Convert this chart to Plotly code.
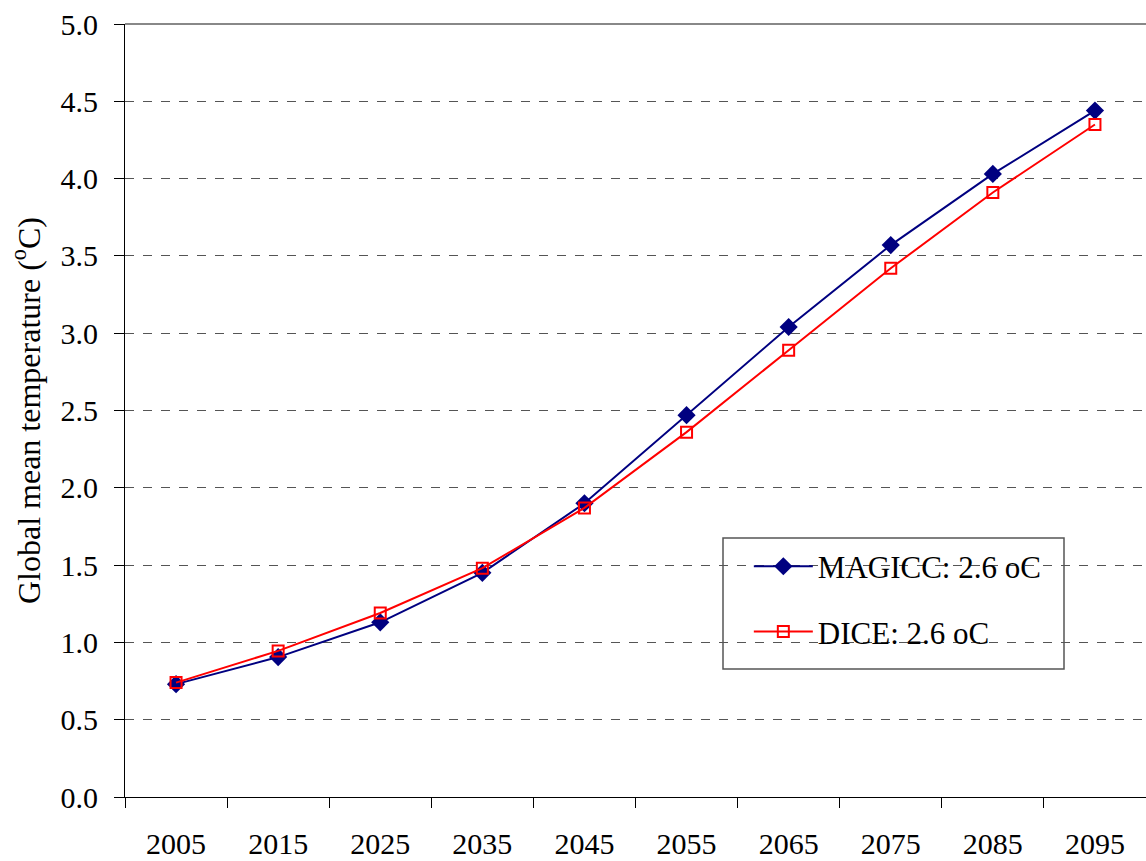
import plotly.graph_objects as go

years = ["2005", "2015", "2025", "2035", "2045", "2055", "2065", "2075", "2085", "2095"]
magicc = [0.73, 0.905, 1.13, 1.45, 1.90, 2.47, 3.04, 3.57, 4.03, 4.44]
dice = [0.74, 0.945, 1.19, 1.48, 1.87, 2.36, 2.89, 3.42, 3.91, 4.35]
y_ticks = [0.0, 0.5, 1.0, 1.5, 2.0, 2.5, 3.0, 3.5, 4.0, 4.5, 5.0]

FONT = "Liberation Serif"

fig = go.Figure()
fig.add_trace(go.Scatter(
    x=years, y=magicc, name="MAGICC: 2.6 oC", mode="lines+markers",
    line=dict(color="#000080", width=2),
    marker=dict(symbol="diamond", size=14, color="#000080"),
    legendgroup="a"))
fig.add_trace(go.Scatter(
    x=years, y=dice, name="DICE: 2.6 oC", mode="lines+markers",
    line=dict(color="#ff0000", width=2),
    marker=dict(symbol="square-open", size=11, color="#ff0000", line=dict(width=2)),
    legendgroup="b"))

fig.update_layout(
    width=1146, height=861,
    margin=dict(l=125, r=0, t=24, b=64),
    paper_bgcolor="white", plot_bgcolor="white",
    font=dict(family=FONT, size=30, color="black"),
    showlegend=True,
    legend=dict(
        x=0.611, y=0.333, xanchor="left", yanchor="top",
        borderwidth=0, bgcolor="rgba(0,0,0,0)",
        font=dict(family=FONT, size=31),
        tracegroupgap=22, itemwidth=59),
    xaxis=dict(
        type="category", tickson="boundaries", ticks="outside", ticklen=10,
        tickcolor="black", showline=True, linecolor="black", linewidth=1,
        showgrid=False, ticklabelstandoff=20, range=[-0.5, 9.5]),
    yaxis=dict(
        range=[0, 5], tickvals=y_ticks, ticktext=[f"{v:.1f}" for v in y_ticks],
        ticks="outside", ticklen=10, tickcolor="black",
        showline=True, linecolor="black", linewidth=1,
        showgrid=True, gridcolor="#555555", griddash="dash", gridwidth=1,
        zeroline=False, ticklabelstandoff=10,
        title=dict(text="Global mean temperature (<sup>o</sup>C)", standoff=10,
                   font=dict(family=FONT, size=32))),
)
fig.add_shape(type="line", xref="paper", yref="paper", x0=0, x1=1, y0=1, y1=1,
              line=dict(color="#888888", width=2))
# legend frame
fig.add_shape(type="rect", xref="paper", yref="paper",
              x0=(723 - 125) / 1021, x1=(1064 - 125) / 1021,
              y0=(797 - 669) / 773, y1=(797 - 538) / 773,
              line=dict(color="#555555", width=1.5), fillcolor="white", layer="below")

fig.write_html(
    "out.html",
    config={"displayModeBar": False},
    post_script="document.body.style.margin='0';document.body.style.overflow='hidden';"
                "window.dispatchEvent(new Event('resize'));")
